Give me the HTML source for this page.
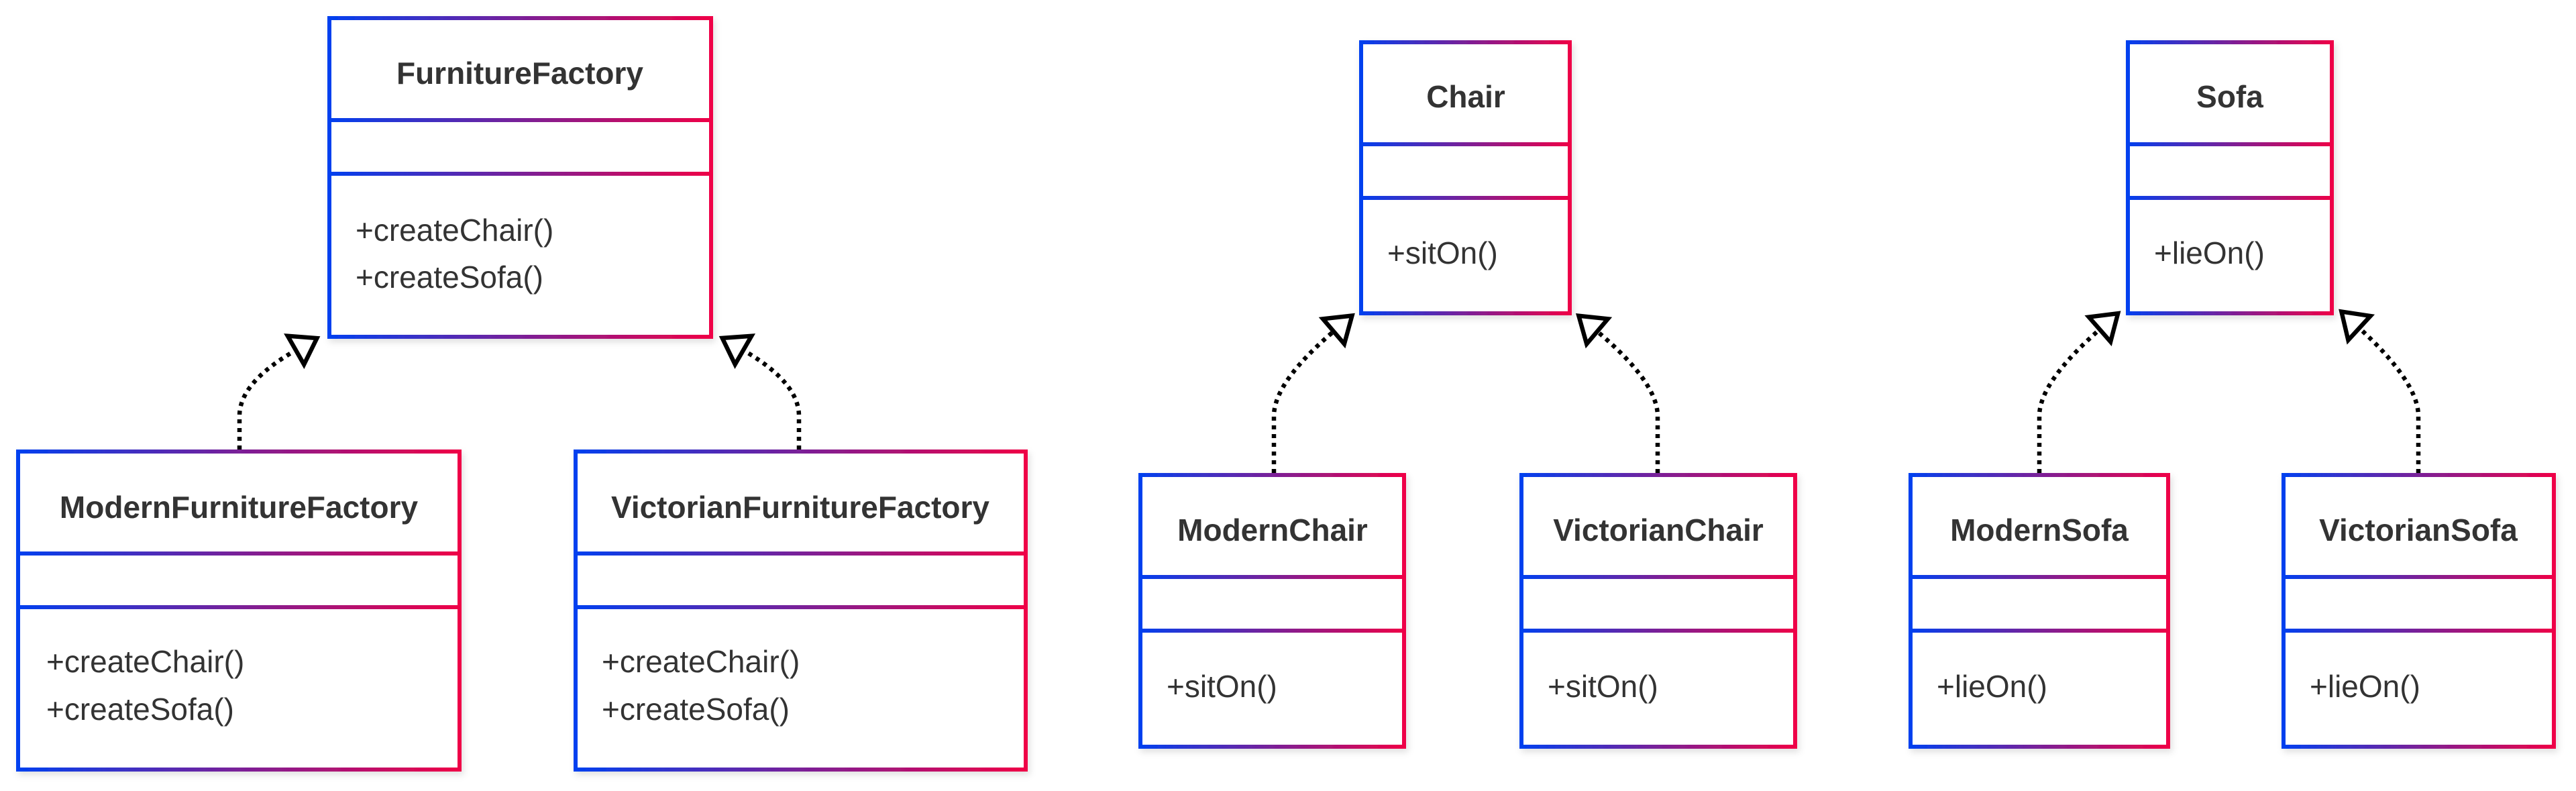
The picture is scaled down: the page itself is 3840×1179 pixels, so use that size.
<!DOCTYPE html>
<html><head><meta charset="utf-8"><style>
html,body{margin:0;padding:0;background:#fff;}
svg{display:block}
text{font-family:"Liberation Sans",Arial,sans-serif;fill:#333;font-size:46px}
.t{font-weight:bold;text-anchor:middle}
</style></head><body>
<svg width="3840" height="1179" viewBox="0 0 3840 1179" xmlns="http://www.w3.org/2000/svg">
<defs>
<filter id="sh" x="-5%" y="-5%" width="115%" height="115%"><feDropShadow dx="3" dy="5" stdDeviation="5" flood-color="#000" flood-opacity="0.12"/></filter>
<marker id="ar" markerUnits="userSpaceOnUse" markerWidth="60" markerHeight="70" viewBox="-5 -30 45 60" refX="0" refY="0" orient="auto">
<path d="M0,-21 L31,0 L0,21 Z" fill="#fff" stroke="#000" stroke-width="5.5"/>
</marker>
<linearGradient id="g0" gradientUnits="userSpaceOnUse" x1="488" x2="1063" y1="0" y2="0"><stop offset="0" stop-color="#0040f0"/><stop offset="0.5" stop-color="#7a2098"/><stop offset="1" stop-color="#f00046"/></linearGradient>
<linearGradient id="g1" gradientUnits="userSpaceOnUse" x1="24" x2="688" y1="0" y2="0"><stop offset="0" stop-color="#0040f0"/><stop offset="0.5" stop-color="#7a2098"/><stop offset="1" stop-color="#f00046"/></linearGradient>
<linearGradient id="g2" gradientUnits="userSpaceOnUse" x1="855" x2="1532" y1="0" y2="0"><stop offset="0" stop-color="#0040f0"/><stop offset="0.5" stop-color="#7a2098"/><stop offset="1" stop-color="#f00046"/></linearGradient>
<linearGradient id="g3" gradientUnits="userSpaceOnUse" x1="2026" x2="2343" y1="0" y2="0"><stop offset="0" stop-color="#0040f0"/><stop offset="0.5" stop-color="#7a2098"/><stop offset="1" stop-color="#f00046"/></linearGradient>
<linearGradient id="g4" gradientUnits="userSpaceOnUse" x1="3169" x2="3479" y1="0" y2="0"><stop offset="0" stop-color="#0040f0"/><stop offset="0.5" stop-color="#7a2098"/><stop offset="1" stop-color="#f00046"/></linearGradient>
<linearGradient id="g5" gradientUnits="userSpaceOnUse" x1="1697" x2="2096" y1="0" y2="0"><stop offset="0" stop-color="#0040f0"/><stop offset="0.5" stop-color="#7a2098"/><stop offset="1" stop-color="#f00046"/></linearGradient>
<linearGradient id="g6" gradientUnits="userSpaceOnUse" x1="2265" x2="2679" y1="0" y2="0"><stop offset="0" stop-color="#0040f0"/><stop offset="0.5" stop-color="#7a2098"/><stop offset="1" stop-color="#f00046"/></linearGradient>
<linearGradient id="g7" gradientUnits="userSpaceOnUse" x1="2845" x2="3235" y1="0" y2="0"><stop offset="0" stop-color="#0040f0"/><stop offset="0.5" stop-color="#7a2098"/><stop offset="1" stop-color="#f00046"/></linearGradient>
<linearGradient id="g8" gradientUnits="userSpaceOnUse" x1="3401" x2="3810" y1="0" y2="0"><stop offset="0" stop-color="#0040f0"/><stop offset="0.5" stop-color="#7a2098"/><stop offset="1" stop-color="#f00046"/></linearGradient>
</defs>

<g fill="none" stroke="#000" stroke-width="6.5" stroke-dasharray="6 7" marker-end="url(#ar)">
<path d="M357,670 L357,620 Q357,570 441,522"/>
<path d="M1191,670 L1191,620 Q1191,570 1108,522"/>
<path d="M1899,705 L1899,620 Q1899,570 1988,494"/>
<path d="M2471,705 L2471,620 Q2471,570 2381,494"/>
<path d="M3040,705 L3040,620 Q3040,570 3130,491"/>
<path d="M3605,705 L3605,620 Q3605,570 3517,489"/>
</g>

<g>
<rect x="491" y="27" width="569" height="475" fill="#fff" stroke="url(#g0)" stroke-width="6" filter="url(#sh)"/>
<rect x="488" y="176" width="575" height="6" fill="url(#g0)"/>
<rect x="488" y="256" width="575" height="6" fill="url(#g0)"/>
<text class="t" x="775" y="125">FurnitureFactory</text>
<text x="530" y="359">+createChair()</text>
<text x="530" y="429">+createSofa()</text>
</g>
<g>
<rect x="27" y="673" width="658" height="474" fill="#fff" stroke="url(#g1)" stroke-width="6" filter="url(#sh)"/>
<rect x="24" y="822" width="664" height="6" fill="url(#g1)"/>
<rect x="24" y="902" width="664" height="6" fill="url(#g1)"/>
<text class="t" x="356" y="772">ModernFurnitureFactory</text>
<text x="69" y="1002">+createChair()</text>
<text x="69" y="1073">+createSofa()</text>
</g>
<g>
<rect x="858" y="673" width="671" height="474" fill="#fff" stroke="url(#g2)" stroke-width="6" filter="url(#sh)"/>
<rect x="855" y="822" width="677" height="6" fill="url(#g2)"/>
<rect x="855" y="902" width="677" height="6" fill="url(#g2)"/>
<text class="t" x="1193" y="772">VictorianFurnitureFactory</text>
<text x="897" y="1002">+createChair()</text>
<text x="897" y="1073">+createSofa()</text>
</g>
<g>
<rect x="2029" y="63" width="311" height="404" fill="#fff" stroke="url(#g3)" stroke-width="6" filter="url(#sh)"/>
<rect x="2026" y="212" width="317" height="6" fill="url(#g3)"/>
<rect x="2026" y="292" width="317" height="6" fill="url(#g3)"/>
<text class="t" x="2185" y="160">Chair</text>
<text x="2068" y="393">+sitOn()</text>
</g>
<g>
<rect x="3172" y="63" width="304" height="404" fill="#fff" stroke="url(#g4)" stroke-width="6" filter="url(#sh)"/>
<rect x="3169" y="212" width="310" height="6" fill="url(#g4)"/>
<rect x="3169" y="292" width="310" height="6" fill="url(#g4)"/>
<text class="t" x="3324" y="160">Sofa</text>
<text x="3211" y="393">+lieOn()</text>
</g>
<g>
<rect x="1700" y="708" width="393" height="405" fill="#fff" stroke="url(#g5)" stroke-width="6" filter="url(#sh)"/>
<rect x="1697" y="857" width="399" height="6" fill="url(#g5)"/>
<rect x="1697" y="937" width="399" height="6" fill="url(#g5)"/>
<text class="t" x="1897" y="806">ModernChair</text>
<text x="1739" y="1039">+sitOn()</text>
</g>
<g>
<rect x="2268" y="708" width="408" height="405" fill="#fff" stroke="url(#g6)" stroke-width="6" filter="url(#sh)"/>
<rect x="2265" y="857" width="414" height="6" fill="url(#g6)"/>
<rect x="2265" y="937" width="414" height="6" fill="url(#g6)"/>
<text class="t" x="2472" y="806">VictorianChair</text>
<text x="2307" y="1039">+sitOn()</text>
</g>
<g>
<rect x="2848" y="708" width="384" height="405" fill="#fff" stroke="url(#g7)" stroke-width="6" filter="url(#sh)"/>
<rect x="2845" y="857" width="390" height="6" fill="url(#g7)"/>
<rect x="2845" y="937" width="390" height="6" fill="url(#g7)"/>
<text class="t" x="3040" y="806">ModernSofa</text>
<text x="2887" y="1039">+lieOn()</text>
</g>
<g>
<rect x="3404" y="708" width="403" height="405" fill="#fff" stroke="url(#g8)" stroke-width="6" filter="url(#sh)"/>
<rect x="3401" y="857" width="409" height="6" fill="url(#g8)"/>
<rect x="3401" y="937" width="409" height="6" fill="url(#g8)"/>
<text class="t" x="3605" y="806">VictorianSofa</text>
<text x="3443" y="1039">+lieOn()</text>
</g>
</svg>
</body></html>
